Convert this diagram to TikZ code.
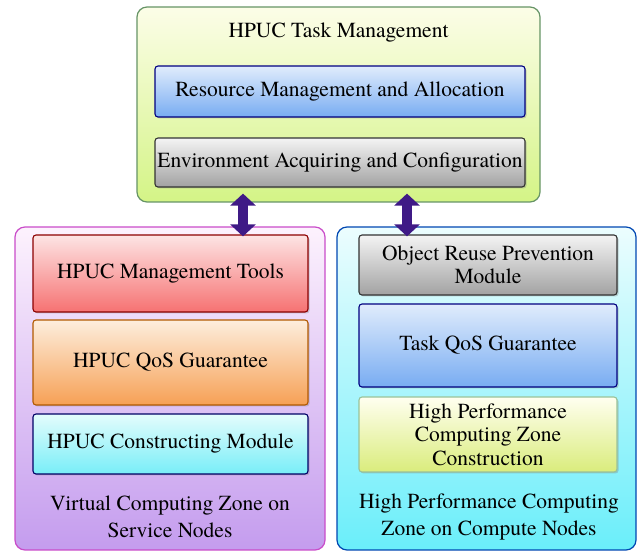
\documentclass[tikz,border=0pt]{standalone}
\usepackage{fontspec}
\newfontfamily\boxfont{texgyretermes-regular.otf}
\usetikzlibrary{arrows.meta,shadows}
\definecolor{arrowc}{HTML}{3F1A86}
\definecolor{tmtop}{HTML}{FCFDE8}\definecolor{tmbot}{HTML}{D4F486}
\definecolor{bltop}{HTML}{E0ECFC}\definecolor{blbot}{HTML}{78ACF2}
\definecolor{grtop}{HTML}{F4F4F4}\definecolor{grbot}{HTML}{A2A2A2}
\definecolor{vztop}{HTML}{FDF2FD}\definecolor{vzbot}{HTML}{C49CEE}
\definecolor{rdtop}{HTML}{FDE4E4}\definecolor{rdbot}{HTML}{F67272}
\definecolor{ortop}{HTML}{FDEEDD}\definecolor{orbot}{HTML}{F6A055}
\definecolor{cytop}{HTML}{E4FCFC}\definecolor{cybot}{HTML}{78EEF8}
\definecolor{hztop}{HTML}{ECFDFE}\definecolor{hzbot}{HTML}{6AEEFA}
\definecolor{yetop}{HTML}{FFFFF0}\definecolor{yebot}{HTML}{DAEC7C}
\begin{document}
\begin{tikzpicture}[x=1pt,y=1pt,
  font=\boxfont\fontsize{21.5}{24}\selectfont,
  box/.style={draw, line width=1.1pt, rounded corners=3pt, align=center,
    inner sep=0pt, drop shadow={shadow xshift=1.5pt, shadow yshift=-1.5pt, opacity=0.35}},
  zone/.style={draw, line width=1.2pt, rounded corners=10pt, inner sep=0pt},
  shade/.style={top color=#1top, bottom color=#1bot},
  dblarrow/.style={line width=10pt, color=arrowc,
    {Triangle[width=25pt 0 0, length=12pt 0 0]}-{Triangle[width=25pt 0 0, length=12pt 0 0]}},
  label/.style={align=center, font=\boxfont\fontsize{21.5}{27}\selectfont},
  tight/.style={font=\boxfont\fontsize{21.5}{23.5}\selectfont}
]
\useasboundingbox (0,0) rectangle (638,552);

% task management zone
\node[zone, draw=black!70!green!60, shade=tm,
  minimum width=403pt, minimum height=195pt] (tm) at (338.5,447.5) {};
\node (tmt) at (338.5,519) {HPUC Task Management};
\node[box, draw=blue!50!black, shade=bl,
  minimum width=370pt, minimum height=51pt] (rma) at (340,460.5) {Resource Management and Allocation};
\node[box, draw=black!80, shade=gr,
  minimum width=370pt, minimum height=49pt] (eac) at (340,389.5) {Environment Acquiring and Configuration};

% virtual computing zone
\node[zone, draw=violet!60!magenta!70, shade=vz,
  minimum width=310pt, minimum height=323pt] (vz) at (170,163.5) {};
\node[box, draw=red!55!black, shade=rd,
  minimum width=275pt, minimum height=77pt] (mt) at (170.5,278.5) {HPUC Management Tools};
\node[box, draw=orange!70!black, shade=or,
  minimum width=275pt, minimum height=85pt] (qg) at (170.5,189.5) {HPUC QoS Guarantee};
\node[box, draw=blue!40!black, shade=cy,
  minimum width=275pt, minimum height=60pt] (cm) at (170.5,108) {HPUC Constructing Module};
\node[label] (vzt) at (170,35.5) {Virtual Computing Zone on\\Service Nodes};

% high performance computing zone
\node[zone, draw=blue!60!cyan!70!black, shade=hz,
  minimum width=299pt, minimum height=323pt] (hz) at (486.5,163.5) {};
\node[box, tight, draw=black!80, shade=gr,
  minimum width=258pt, minimum height=60pt] (orp) at (488,287) {Object Reuse Prevention\\Module};
\node[box, draw=blue!50!black, shade=bl,
  minimum width=258pt, minimum height=83pt] (tq) at (488,206.5) {Task QoS Guarantee};
\node[box, tight, draw=black!60!green!40, shade=ye,
  minimum width=258pt, minimum height=75pt] (hpc) at (488,117.5) {High Performance\\Computing Zone\\Construction};
\node[label] (hzt) at (489,35.5) {High Performance Computing\\Zone on Compute Nodes};

% links between the task management and the two zones
\draw[dblarrow] ([xshift=-95.5pt,yshift=9pt]tm.south) -- ([xshift=73pt,yshift=-10pt]vz.north);
\draw[dblarrow] ([xshift=68.5pt,yshift=9pt]tm.south) -- ([xshift=-79.5pt,yshift=-10pt]hz.north);
\end{tikzpicture}
\end{document}
